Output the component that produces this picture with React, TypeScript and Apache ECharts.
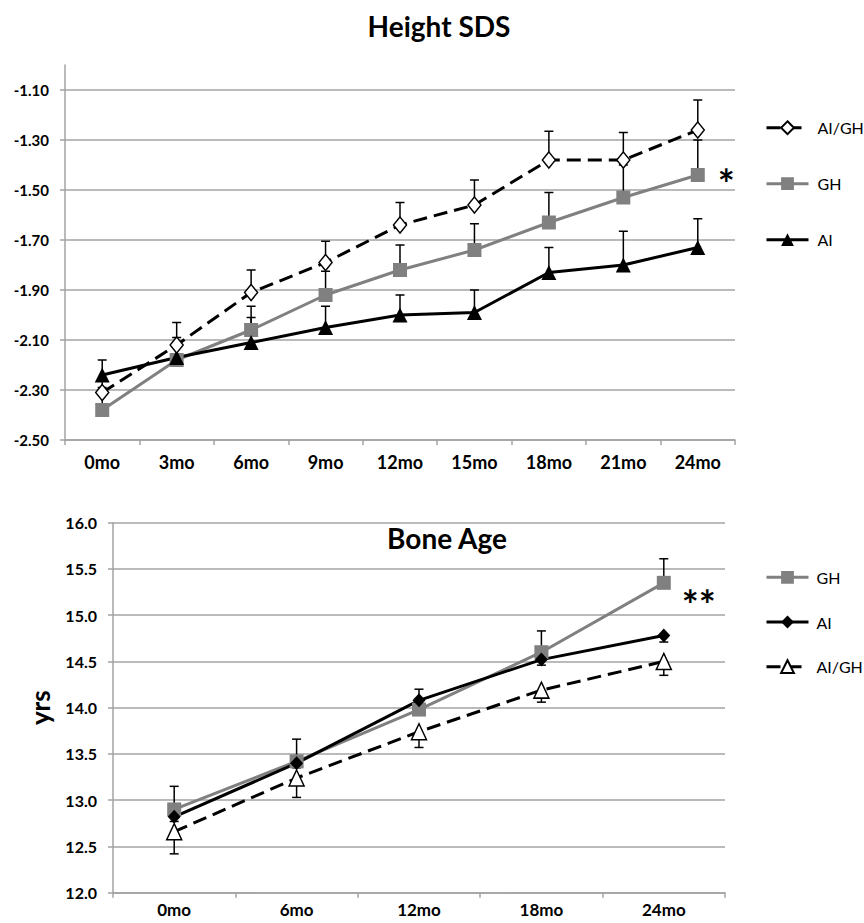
import React, { useEffect, useRef } from "react";
import * as echarts from "echarts";

// ---- Height SDS data ----
const htCategories = ["0mo", "3mo", "6mo", "9mo", "12mo", "15mo", "18mo", "21mo", "24mo"];
const htAIGH = [-2.31, -2.12, -1.91, -1.79, -1.64, -1.56, -1.38, -1.38, -1.26];
const htAIGHErr = [0.05, 0.09, 0.09, 0.085, 0.09, 0.1, 0.115, 0.11, 0.12];
const htGH = [-2.38, -2.18, -2.06, -1.92, -1.82, -1.74, -1.63, -1.53, -1.44];
const htGHErr = [0.09, 0.07, 0.095, 0.095, 0.1, 0.105, 0.12, 0.13, 0.14];
const htAI = [-2.24, -2.17, -2.11, -2.05, -2.0, -1.99, -1.83, -1.8, -1.73];
const htAIErr = [0.06, 0.08, 0.1, 0.085, 0.08, 0.09, 0.1, 0.135, 0.115];

// ---- Bone Age data ----
const baCategories = ["0mo", "6mo", "12mo", "18mo", "24mo"];
const baGH = [12.9, 13.42, 13.98, 14.6, 15.35];
const baGHErr = [0.25, 0.24, 0.22, 0.23, 0.26];
const baAI = [12.82, 13.4, 14.08, 14.52, 14.78];
const baAIErr = [0.05, 0.05, 0.05, 0.06, 0.07];
const baAIGH = [12.66, 13.24, 13.74, 14.19, 14.5];
const baAIGHErr = [0.24, 0.21, 0.17, 0.13, 0.15];

const FONT = "Lato";
const GREY = "#808080";
const GRID = "#a3a3a3";

function errorSeries(idx: number, vals: number[], errs: number[], dir: number) {
  return {
    type: "custom",
    xAxisIndex: idx,
    yAxisIndex: idx,
    z: 1,
    silent: true,
    encode: { x: 0, y: [1, 2] },
    data: vals.map((v, i) => [i, v, v + dir * errs[i]]),
    renderItem: (_params: any, api: any) => {
      const p0 = api.coord([api.value(0), api.value(1)]);
      const p1 = api.coord([api.value(0), api.value(2)]);
      const st = { stroke: "#000", lineWidth: 1.5 };
      return {
        type: "group",
        children: [
          { type: "line", shape: { x1: p0[0], y1: p0[1], x2: p1[0], y2: p1[1] }, style: st },
          { type: "line", shape: { x1: p1[0] - 4.5, y1: p1[1], x2: p1[0] + 4.5, y2: p1[1] }, style: st },
        ],
      };
    },
  };
}

export default function App() {
  const ref = useRef<HTMLDivElement>(null);
  useEffect(() => {
    if (!ref.current) return;
    const chart = echarts.init(ref.current, undefined, { renderer: "svg" });
    const axisLabelStyle = { fontFamily: FONT, fontWeight: "bold", color: "#000" };
    const option: any = {
      animation: false,
      backgroundColor: "#fff",
      textStyle: { fontFamily: FONT },
      grid: [
        { left: 65, right: 129, top: 65, bottom: 483 },
        { left: 113, right: 139, top: 522.7, bottom: 30.3 },
      ],
      xAxis: [
        {
          type: "category",
          gridIndex: 0,
          data: htCategories,
          boundaryGap: true,
          axisLine: { lineStyle: { color: GRID, width: 1.5 } },
          axisTick: { show: true, length: 5, lineStyle: { color: GRID, width: 1.5 } },
          axisLabel: { ...axisLabelStyle, fontSize: 18, margin: 13 },
        },
        {
          type: "category",
          gridIndex: 1,
          data: baCategories,
          boundaryGap: true,
          axisLine: { lineStyle: { color: GRID, width: 1.5 } },
          axisTick: { show: true, length: 5, lineStyle: { color: GRID, width: 1.5 } },
          axisLabel: { ...axisLabelStyle, fontSize: 17, margin: 8 },
        },
      ],
      yAxis: [
        {
          type: "value",
          gridIndex: 0,
          min: -2.5,
          max: -1.0,
          interval: 0.2,
          axisLine: { show: true, lineStyle: { color: GRID, width: 1.5 } },
          axisTick: { show: true, length: 5, lineStyle: { color: GRID, width: 1.5 } },
          splitLine: { show: true, showMaxLine: false, lineStyle: { color: GRID, width: 1.5 } },
          axisLabel: {
            ...axisLabelStyle,
            fontSize: 15,
            margin: 16,
            showMaxLabel: false,
            formatter: (v: number) => v.toFixed(2),
          },
        },
        {
          type: "value",
          gridIndex: 1,
          min: 12,
          max: 16,
          interval: 0.5,
          name: "yrs",
          nameLocation: "middle",
          nameGap: 60,
          nameRotate: 90,
          nameTextStyle: { fontFamily: FONT, fontWeight: "bold", fontSize: 26, color: "#000" },
          axisLine: { show: true, lineStyle: { color: GRID, width: 1.5 } },
          axisTick: { show: true, length: 5, lineStyle: { color: GRID, width: 1.5 } },
          splitLine: { show: true, lineStyle: { color: GRID, width: 1.5 } },
          axisLabel: {
            ...axisLabelStyle,
            fontSize: 16,
            margin: 16,
            formatter: (v: number) => v.toFixed(1),
          },
        },
      ],
      legend: [
        {
          orient: "vertical",
          left: 765,
          top: 119.7,
          padding: 0,
          itemWidth: 42,
          itemHeight: 16,
          itemGap: 40,
          lineStyle: { width: 3 },
          data: ["AI/GH", "GH", "AI"],
          textStyle: { fontFamily: FONT, fontSize: 16, color: "#000", padding: [0, 0, 0, 4] },
          selectedMode: false,
        },
        {
          orient: "vertical",
          left: 765,
          top: 569.3,
          padding: 0,
          itemWidth: 42,
          itemHeight: 16,
          itemGap: 28.7,
          lineStyle: { width: 3 },
          data: ["GH ", "AI ", "AI/GH "],
          formatter: (n: string) => n.trim(),
          textStyle: { fontFamily: FONT, fontSize: 16, color: "#000", padding: [0, 0, 0, 3] },
          selectedMode: false,
        },
      ],
      graphic: [
        {
          type: "text",
          x: 439,
          y: 26,
          style: {
            text: "Height SDS",
            fontFamily: FONT,
            fontWeight: "bold",
            fontSize: 28,
            fill: "#000",
            textAlign: "center",
            textVerticalAlign: "middle",
          },
        },
        {
          type: "text",
          x: 447,
          y: 538,
          style: {
            text: "Bone Age",
            fontFamily: FONT,
            fontWeight: "bold",
            fontSize: 28,
            fill: "#000",
            textAlign: "center",
            textVerticalAlign: "middle",
          },
        },
      ],
      series: [
        errorSeries(0, htGH, htGHErr, 1),
        errorSeries(0, htAI, htAIErr, 1),
        errorSeries(0, htAIGH, htAIGHErr, 1),
        {
          name: "GH",
          type: "line",
          xAxisIndex: 0,
          yAxisIndex: 0,
          data: htGH.map((v, i) =>
            i === htGH.length - 1
              ? {
                  value: v,
                  label: {
                    show: true,
                    formatter: "*",
                    position: "right",
                    distance: 13,
                    offset: [0, 9],
                    fontFamily: FONT,
                    fontWeight: "bold",
                    fontSize: 40,
                    color: "#000",
                  },
                }
              : v
          ),
          symbol: "rect",
          symbolSize: 14,
          itemStyle: { color: GREY },
          lineStyle: { color: GREY, width: 3 },
        },
        {
          name: "AI",
          type: "line",
          xAxisIndex: 0,
          yAxisIndex: 0,
          data: htAI,
          symbol: "triangle",
          symbolSize: 15,
          itemStyle: { color: "#000" },
          lineStyle: { color: "#000", width: 3 },
        },
        {
          name: "AI/GH",
          type: "line",
          xAxisIndex: 0,
          yAxisIndex: 0,
          data: htAIGH,
          symbol: "diamond",
          symbolSize: [13, 16],
          itemStyle: { color: "#fff", borderColor: "#000", borderWidth: 1.5 },
          lineStyle: { color: "#000", width: 3, type: [14, 7] },
        },
        errorSeries(1, baGH, baGHErr, 1),
        errorSeries(1, baAI, baAIErr, -1),
        errorSeries(1, baAIGH, baAIGHErr, -1),
        {
          name: "AI/GH ",
          type: "line",
          xAxisIndex: 1,
          yAxisIndex: 1,
          data: baAIGH,
          symbol: "triangle",
          symbolSize: [15, 16],
          itemStyle: { color: "#fff", borderColor: "#000", borderWidth: 1.5 },
          lineStyle: { color: "#000", width: 3, type: [14, 7] },
        },
        {
          name: "GH ",
          type: "line",
          xAxisIndex: 1,
          yAxisIndex: 1,
          data: baGH.map((v, i) =>
            i === baGH.length - 1
              ? {
                  value: v,
                  label: {
                    show: true,
                    formatter: "**",
                    position: "right",
                    distance: 11,
                    offset: [0, 22],
                    fontFamily: FONT,
                    fontWeight: "bold",
                    fontSize: 40,
                    color: "#000",
                  },
                }
              : v
          ),
          symbol: "rect",
          symbolSize: 14,
          itemStyle: { color: GREY },
          lineStyle: { color: GREY, width: 3 },
        },
        {
          name: "AI ",
          type: "line",
          xAxisIndex: 1,
          yAxisIndex: 1,
          data: baAI,
          symbol: "diamond",
          symbolSize: [13, 14],
          itemStyle: { color: "#000" },
          lineStyle: { color: "#000", width: 3 },
        },
      ],
    };
    chart.setOption(option);
    return () => chart.dispose();
  }, []);
  return (
    <div
      ref={ref}
      style={{ position: "absolute", left: 0, top: 0, width: 864, height: 923 }}
    />
  );
}
